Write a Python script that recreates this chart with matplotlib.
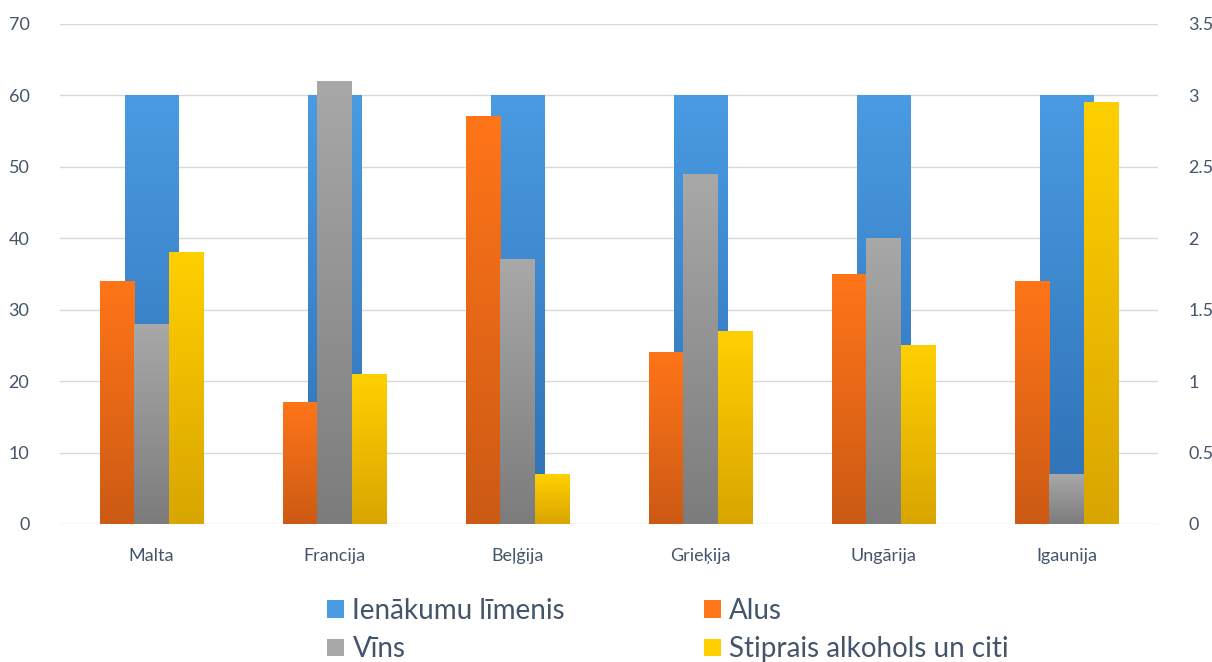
import numpy as np
import matplotlib.pyplot as plt
from matplotlib.patches import Patch
from matplotlib.colors import LinearSegmentedColormap

plt.rcParams['font.family'] = ['Lato', 'DejaVu Sans']

# dati
valstis = ['Malta', 'Francija', 'Beļģija', 'Grieķija', 'Ungārija', 'Igaunija']
ienakumi = [3, 3, 3, 3, 3, 3]          # labā ass
alus = [34, 17, 57, 24, 35, 34]
vins = [28, 62, 37, 49, 40, 7]
stiprais = [38, 21, 7, 27, 25, 59]

teksta_krasa = '#44546a'
krasas = {
    'Ienākumu līmenis': ('#4a9be2', '#2e6fb3'),
    'Alus': ('#ff7519', '#cc5a14'),
    'Vīns': ('#a8a8a8', '#7c7c7c'),
    'Stiprais alkohols un citi': ('#ffd000', '#d9a500'),
}


def gradient_bars(ax, xs, heights, width, colors, z):
    cmap = LinearSegmentedColormap.from_list('g', [colors[1], colors[0]])
    grad = np.linspace(0, 1, 256).reshape(-1, 1)
    for x, h in zip(xs, heights):
        ax.imshow(grad, extent=[x - width / 2, x + width / 2, 0, h], origin='lower',
                  cmap=cmap, aspect='auto', zorder=z, interpolation='bicubic')


fig = plt.figure(figsize=(12.12, 6.62), dpi=100)
ax2 = fig.add_axes([60 / 1212, 138 / 662, 1098 / 1212, 500 / 662])
ax = ax2.twinx()
# primārā ass virs sekundārās, lai zilie stabiņi paliek fonā
ax2.yaxis.tick_right()
ax.yaxis.tick_left()
ax.set_zorder(ax2.get_zorder() + 1)
ax.patch.set_visible(False)

x = np.arange(len(valstis))
w = 0.187
gradient_bars(ax2, x, ienakumi, 0.29, krasas['Ienākumu līmenis'], 2)
gradient_bars(ax, x - w, alus, w, krasas['Alus'], 3)
gradient_bars(ax, x, vins, w, krasas['Vīns'], 3)
gradient_bars(ax, x + w, stiprais, w, krasas['Stiprais alkohols un citi'], 3)

for a in (ax, ax2):
    a.set_xlim(-0.5, len(valstis) - 0.5)
    for s in a.spines.values():
        s.set_visible(False)
    a.tick_params(length=0, labelsize=13, labelcolor=teksta_krasa)

ax.set_ylim(0, 70)
ax.set_yticks(range(0, 71, 10))
ax2.set_ylim(0, 3.5)
ax2.set_yticks(np.arange(0, 3.51, 0.5))
ax2.set_yticklabels(['0', '0.5', '1', '1.5', '2', '2.5', '3', '3.5'])
ax.tick_params(axis='y', pad=22)
ax2.tick_params(axis='y', pad=22)
ax2.set_xticks(x)
ax2.set_xticklabels(valstis)
ax2.tick_params(axis='x', pad=17, labelbottom=True)
ax.tick_params(axis='x', labelbottom=False)

ax2.set_axisbelow(True)
ax2.grid(axis='y', color='#d9d9d9', linewidth=1)
ax2.grid(axis='x', visible=False)

handles = [Patch(facecolor=c[0], label=k) for k, c in krasas.items()]
order = [handles[0], handles[2], handles[1], handles[3]]
fig.legend(handles=order, ncol=2, loc='center', bbox_to_anchor=(668 / 1212, 1 - 630 / 662),
           frameon=False, fontsize=20, labelcolor=teksta_krasa, handlelength=0.6, handleheight=0.6,
           handletextpad=0.3, columnspacing=5.0, labelspacing=0.45)

fig.savefig('out.png', dpi=100)
